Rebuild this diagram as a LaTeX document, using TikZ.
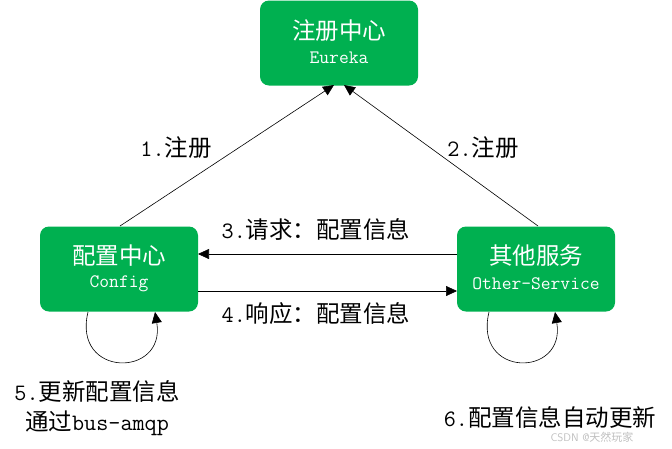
\documentclass[tikz,border=0pt]{standalone}
\usepackage{fontspec}
\newfontfamily\cjk{Noto Sans CJK SC}
\newcommand\zh[1]{{\cjk\fontsize{23.5}{30}\selectfont #1}}
\usetikzlibrary{arrows.meta}
\definecolor{boxgreen}{HTML}{00B050}
\tikzset{
  svcbox/.style={fill=boxgreen, rounded corners=9pt, minimum width=158pt, minimum height=85pt, inner sep=0pt},
  conn/.style={draw=black, line width=0.6pt, -{Triangle[length=11pt,width=10pt]}},
  lbl/.style={font=\ttfamily\fontsize{23.5}{30}\selectfont, inner sep=0pt},
  titl/.style={white, font=\cjk\fontsize{23.5}{26}\selectfont},
  subt/.style={white, font=\ttfamily\fontsize{19}{20}\selectfont},
}
\begin{document}
\begin{tikzpicture}[x=1pt,y=-1pt]
\useasboundingbox (0,0) rectangle (672,448);
\node[svcbox] (eureka) at (339,43) {};
\node[titl] (eurekaT) at (339,31) {注册中心};
\node[subt] (eurekaS) at (339,58) {Eureka};
\node[svcbox] (config) at (119,269) {};
\node[titl] (configT) at (119,256) {配置中心};
\node[subt] (configS) at (119,284) {Config};
\node[svcbox] (other) at (536,269) {};
\node[titl] (otherT) at (536,256) {其他服务};
\node[subt] (otherS) at (536,284) {Other-Service};
\coordinate (c1) at (120,226); \coordinate (e1) at (334,85);
\coordinate (c2) at (538,226); \coordinate (e2) at (344,85);
\draw[conn] (c1) -- (e1);
\draw[conn] (c2) -- (e2);
\coordinate (o3) at (457,254); \coordinate (k3) at (198,254);
\coordinate (k4) at (198,291); \coordinate (o4) at (457,291);
\draw[conn] (o3) -- (k3);
\draw[conn] (k4) -- (o4);
\coordinate (l1s) at (88,312); \coordinate (l1e) at (155,312);
\draw[conn] (l1s) .. controls (72,378) and (166,378) .. (l1e);
\coordinate (l2s) at (489,312); \coordinate (l2e) at (555,312);
\draw[conn] (l2s) .. controls (473,378) and (566,378) .. (l2e);
\node[lbl] (t1) at (176,148) {1.\zh{注册}};
\node[lbl] (t2) at (483,148) {2.\zh{注册}};
\node[lbl] (t3) at (316,229) {3.\zh{请求：配置信息}};
\node[lbl] (t4) at (316,314) {4.\zh{响应：配置信息}};
\node[lbl, align=center] (t5) at (97,408) {5.\zh{更新配置信息}\\\zh{通过}bus-amqp};
\node[lbl] (t6) at (550,417) {6.\zh{配置信息自动更新}};
\node[font=\fontsize{11}{13}\selectfont\sffamily, text=black!25, inner sep=0pt] (wm) at (592,437) {CSDN @{\cjk 天然玩家}};
\end{tikzpicture}
\end{document}
